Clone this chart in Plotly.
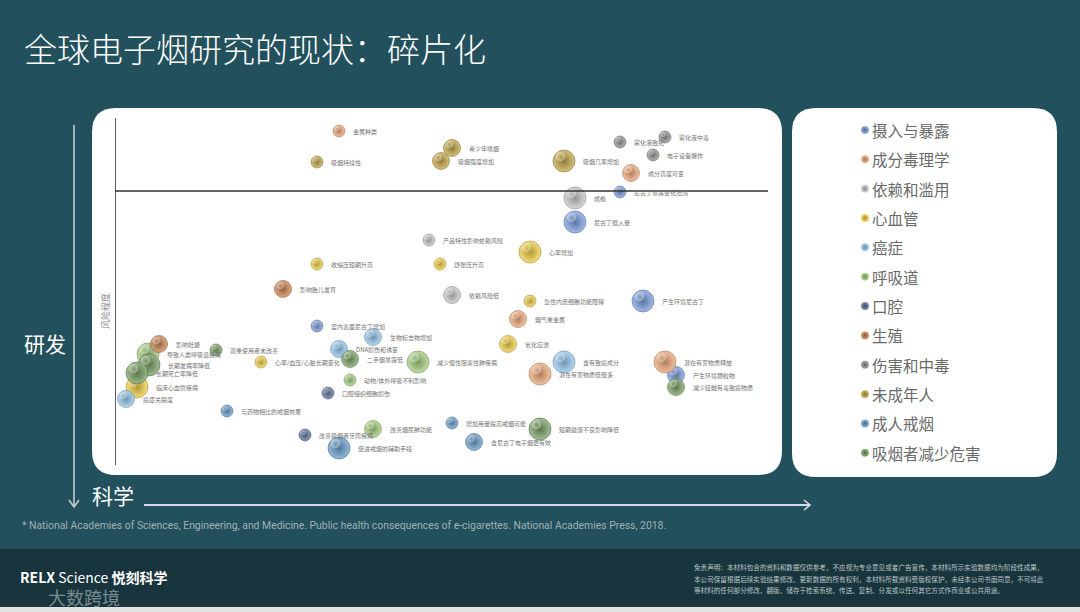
import plotly.graph_objects as go

W, H = 1080, 612

# ---------------- data ----------------
categories = ["摄入与暴露", "成分毒理学", "依赖和滥用", "心血管", "癌症", "呼吸道",
              "口腔", "生殖", "伤害和中毒", "未成年人", "成人戒烟", "吸烟者减少危害"]
category_colors = ["#6f95dc", "#f0a26e", "#c4c4c4", "#f2cc34", "#8cc4ec", "#9ccc70",
                   "#4f6896", "#c87a40", "#8a8a8a", "#c0a038", "#5a94c8", "#6e9a58"]

finding_labels = [
    "尼古丁摄入量", "尼古丁暴露变化范围", "室内表面尼古丁增加", "产生环境尼古丁", "产生环境颗粒物",
    "金属种类", "成分高度可变", "烟气重金属", "潜在有害物质低很多", "潜在有害物质释放",
    "成瘾", "产品特性影响依赖风险", "依赖风险低",
    "心率增加", "舒张压升高", "收缩压短期升高", "急性内皮细胞功能障碍", "氧化应激",
    "心率/血压/心脏长期变化", "临床心血管疾病",
    "生物标志物增加", "DNA损伤和诱变", "含有致癌成分", "癌症关联度",
    "导致人类呼吸道疾病", "减少慢性阻塞性肺疾病", "动物/体外呼吸不利影响", "改善烟民肺功能",
    "口腔组织细胞损伤", "改善吸烟者牙周疾病",
    "影响胎儿发育", "影响妊娠",
    "雾化液中毒", "雾化液致死", "电子设备爆炸",
    "吸烟持续性", "青少年嗜烟", "吸烟强度增加", "吸烟几率增加",
    "与药物相比的戒烟效果", "促进戒烟的辅助手段", "增加用量提高戒烟可能", "含尼古丁电子烟更有效",
    "双重使用者未改善", "长期发病率降低", "长期死亡率降低", "二手烟暴露低",
    "短期健康不良影响降低", "减少接触有毒致癌物质",
]
finding_category = [
    0, 0, 0, 0, 0,
    1, 1, 1, 1, 1,
    2, 2, 2,
    3, 3, 3, 3, 3, 3, 3,
    4, 4, 4, 4,
    5, 5, 5, 5,
    6, 6,
    7, 7,
    8, 8, 8,
    9, 9, 9, 9,
    10, 10, 10, 10,
    11, 11, 11, 11, 11, 11,
]
# science axis (left -> right) and risk axis (bottom -> top), arbitrary units
science = [
    460, 505, 202, 528, 561,
    224, 516, 403, 425, 550,
    460, 314, 337,
    415, 325, 202, 415, 393, 146, 22,
    258, 224, 449, 11,
    33, 303, 235, 258,
    213, 190,
    168, 44,
    550, 505, 538,
    202, 337, 326, 449,
    112, 224, 337, 359,
    101, 34, 22, 235, 425, 561,
]
risk = [
    243, 273, 139, 164, 90,
    334, 292, 146, 91, 103,
    267, 225, 170,
    213, 201, 201, 164, 121, 103, 78,
    128, 116, 103, 66,
    111, 103, 85, 36,
    72, 30,
    176, 121,
    328, 323, 310,
    303, 317, 304, 304,
    54, 17, 42, 23,
    115, 100, 92, 106, 36, 78,
]
evidence_level = [
    3, 1, 1, 3, 2,
    1, 2, 2, 3, 3,
    3, 1, 2,
    3, 1, 1, 1, 2, 1, 3,
    2, 2, 3, 2,
    3, 3, 1, 2,
    1, 1,
    2, 2,
    1, 1, 1,
    1, 2, 2, 3,
    1, 3, 1, 2,
    1, 3, 3, 2, 3, 2,
]
risk_threshold = 274
science_range = [0, 660]
risk_range = [0, 347]

footnote = ("* National Academies of Sciences, Engineering, and Medicine. Public health consequences "
            "of e-cigarettes. National Academies Press, 2018.")
disclaimer = [
    "免责声明：本材料包含的资料和数据仅供参考，不应视为专业意见或者广告宣传，本材料所示实验数据均为阶段性成果，",
    "本公司保留根据后续实验结果修改、更新数据的所有权利，本材料所载资料受版权保护，未经本公司书面同意，不可将此",
    "等材料的任何部分修改、翻版、储存于检索系统、传送、复制、分发或以任何其它方式作商业或公共用途。",
]

# ---------------- helpers ----------------
CJK = "Noto Sans CJK SC"


def px(x):
    return x / W


def py(y):
    return 1 - y / H


def mix(hexc, target, t):
    h = hexc.lstrip("#")
    r, g, b = int(h[0:2], 16), int(h[2:4], 16), int(h[4:6], 16)
    r = round(r + (target[0] - r) * t)
    g = round(g + (target[1] - g) * t)
    b = round(b + (target[2] - b) * t)
    return f"rgb({r},{g},{b})"


def lighten(c, t):
    return mix(c, (255, 255, 255), t)


def darken(c, t):
    return mix(c, (0, 0, 0), t)


def rounded_rect(x0, y0, x1, y1, r):
    p = [
        f"M {px(x0 + r)} {py(y0)}",
        f"L {px(x1 - r)} {py(y0)}",
        f"Q {px(x1)} {py(y0)} {px(x1)} {py(y0 + r)}",
        f"L {px(x1)} {py(y1 - r)}",
        f"Q {px(x1)} {py(y1)} {px(x1 - r)} {py(y1)}",
        f"L {px(x0 + r)} {py(y1)}",
        f"Q {px(x0)} {py(y1)} {px(x0)} {py(y1 - r)}",
        f"L {px(x0)} {py(y0 + r)}",
        f"Q {px(x0)} {py(y0)} {px(x0 + r)} {py(y0)}",
        "Z",
    ]
    return " ".join(p)


def diam(level):
    return {1: 12, 2: 17, 3: 22}[level]


fig = go.Figure()

# ---------------- bubbles ----------------
for ci, cat in enumerate(categories):
    idx = [i for i, c in enumerate(finding_category) if c == ci]
    xs = [science[i] for i in idx]
    ys = [risk[i] for i in idx]
    ds = [diam(evidence_level[i]) for i in idx]
    col = category_colors[ci]
    fig.add_trace(go.Scatter(
        x=xs, y=ys, mode="markers", showlegend=False, hoverinfo="skip",
        marker=dict(size=ds, color=lighten(col, 0.30), opacity=0.92,
                    gradient=dict(type="radial", color=darken(col, 0.30)),
                    line=dict(width=0.6, color=darken(col, 0.35))),
        xaxis="x", yaxis="y",
    ))
    # specular highlight (1 axis unit ~ 1 px)
    fig.add_trace(go.Scatter(
        x=[x - 0.16 * d for x, d in zip(xs, ds)],
        y=[y + 0.2 * d for y, d in zip(ys, ds)],
        mode="markers", showlegend=False, hoverinfo="skip",
        marker=dict(size=[0.42 * d for d in ds], color="rgba(255,255,255,0.55)",
                    gradient=dict(type="radial", color="rgba(255,255,255,0)"),
                    line=dict(width=0)),
        xaxis="x", yaxis="y",
    ))

annotations = []
for i, lab in enumerate(finding_labels):
    annotations.append(dict(
        x=science[i], y=risk[i], xref="x", yref="y", text=lab, showarrow=False,
        xanchor="left", yanchor="middle", xshift=diam(evidence_level[i]) / 2 + 6,
        font=dict(family=CJK, size=6, color="#737373"),
    ))

# ---------------- legend (custom panel) ----------------
leg_y = list(range(len(categories)))
fig.add_trace(go.Scatter(
    x=[15] * len(categories), y=leg_y, mode="markers", showlegend=False, hoverinfo="skip",
    marker=dict(size=8, color=[lighten(c, 0.3) for c in category_colors],
                gradient=dict(type="radial", color=[darken(c, 0.3) for c in category_colors]),
                line=dict(width=0)),
    xaxis="x2", yaxis="y2",
))
for i, cat in enumerate(categories):
    annotations.append(dict(
        x=15, y=i, xref="x2", yref="y2", text=cat, showarrow=False,
        xanchor="left", yanchor="middle", xshift=5,
        font=dict(family=CJK, size=15.5, color="#6a6a6a"),
    ))

# ---------------- shapes ----------------
shapes = [
    # footer band
    dict(type="rect", xref="paper", yref="paper", x0=0, x1=1, y0=py(612), y1=py(549),
         fillcolor="#18343c", line=dict(width=0), layer="below"),
    dict(type="rect", xref="paper", yref="paper", x0=0, x1=1, y0=py(612), y1=py(607),
         fillcolor="#e2e4e4", line=dict(width=0), layer="below"),
    # white panels
    dict(type="path", xref="paper", yref="paper", path=rounded_rect(92, 108, 782, 475, 24),
         fillcolor="white", line=dict(width=0), layer="below"),
    dict(type="path", xref="paper", yref="paper", path=rounded_rect(792, 108, 1057, 477, 24),
         fillcolor="white", line=dict(width=0), layer="below"),
    # chart axes
    dict(type="line", xref="x", yref="y", x0=0, x1=0, y0=risk_range[0], y1=risk_range[1],
         line=dict(color="#333333", width=1.6)),
    dict(type="line", xref="x", yref="y", x0=0, x1=653, y0=risk_threshold, y1=risk_threshold,
         line=dict(color="#333333", width=1.6)),
    # outer arrows
    dict(type="line", xref="paper", yref="paper", x0=px(74), x1=px(74), y0=py(125), y1=py(507),
         line=dict(color="#c9d2d4", width=1.5)),
    dict(type="path", xref="paper", yref="paper",
         path=f"M {px(69)} {py(500)} L {px(74)} {py(507)} L {px(79)} {py(500)}",
         line=dict(color="#c9d2d4", width=1.5)),
    dict(type="line", xref="paper", yref="paper", x0=px(144), x1=px(810), y0=py(505), y1=py(505),
         line=dict(color="#d6dcdd", width=2)),
    dict(type="path", xref="paper", yref="paper",
         path=f"M {px(804)} {py(500)} L {px(810)} {py(505)} L {px(804)} {py(510)}",
         line=dict(color="#d6dcdd", width=1.6)),
]

# ---------------- texts ----------------
annotations += [
    dict(x=px(22), y=py(48), xref="paper", yref="paper", text="全球电子烟研究的现状：碎片化",
         showarrow=False, xanchor="left", yanchor="middle",
         font=dict(family=CJK, size=33, color="white", weight=300)),
    dict(x=px(45), y=py(343), xref="paper", yref="paper", text="研发", showarrow=False,
         xanchor="center", yanchor="middle", font=dict(family=CJK, size=21, color="white")),
    dict(x=px(90), y=py(495), xref="paper", yref="paper", text="科学", showarrow=False,
         xanchor="left", yanchor="middle", font=dict(family=CJK, size=21, color="white")),
    dict(x=px(105), y=py(311), xref="paper", yref="paper", text="风险程度", showarrow=False,
         textangle=-90, xanchor="center", yanchor="middle",
         font=dict(family=CJK, size=9, color="#8a8a8a")),
    dict(x=px(20), y=py(525), xref="paper", yref="paper", text=footnote, showarrow=False,
         xanchor="left", yanchor="middle",
         font=dict(family="Liberation Sans Narrow, Roboto, sans-serif", size=10.4, color="#9fb0b5")),
    dict(x=px(18), y=py(577), xref="paper", yref="paper",
         text="<b>RELX</b> Science <b>悦刻科学</b>", showarrow=False,
         xanchor="left", yanchor="middle", font=dict(family=CJK, size=14, color="white")),
    dict(x=px(46), y=py(597), xref="paper", yref="paper", text="大数跨境", showarrow=False,
         xanchor="left", yanchor="middle",
         font=dict(family=CJK, size=18, color="rgba(220,225,228,0.5)")),
]
for k, line in enumerate(disclaimer):
    annotations.append(dict(
        x=px(692), y=py(567 + 11.5 * k), xref="paper", yref="paper", text=line, showarrow=False,
        xanchor="left", yanchor="middle", font=dict(family=CJK, size=6.6, color="#b9c5c9"),
    ))

fig.update_layout(
    width=W, height=H, margin=dict(l=0, r=0, t=0, b=0),
    paper_bgcolor="#22505c", plot_bgcolor="rgba(0,0,0,0)",
    xaxis=dict(domain=[px(115), px(775)], range=science_range, visible=False, fixedrange=True),
    yaxis=dict(domain=[py(465), py(118)], range=risk_range, visible=False, fixedrange=True),
    xaxis2=dict(domain=[px(850), px(1050)], range=[0, 200], visible=False, anchor="y2",
                fixedrange=True),
    yaxis2=dict(domain=[py(467.5), py(115.3)], range=[11.5, -0.5], visible=False, anchor="x2",
                fixedrange=True),
    shapes=shapes, annotations=annotations, showlegend=False,
)

fig.write_html("out.html", config={"displayModeBar": False},
               post_script="document.body.style.margin='0';document.body.style.overflow='hidden';")
